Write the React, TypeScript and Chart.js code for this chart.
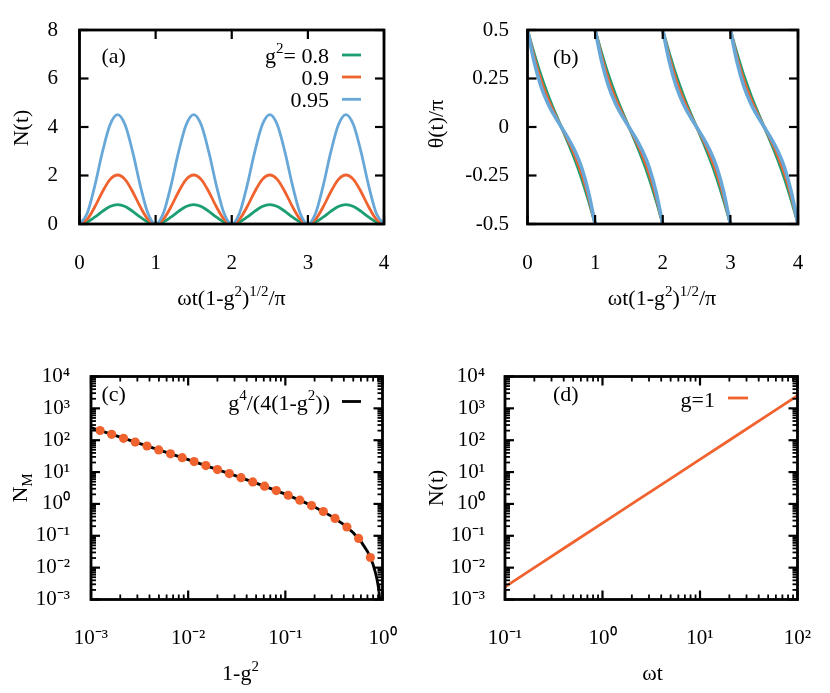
import React, { useEffect, useRef } from "react";
import { Chart, registerables } from "chart.js";

Chart.register(...registerables);

const FONT = '"Liberation Serif", "Times New Roman", serif';
const TICK_SIZE = 21;
const TEXT_SIZE = 22;

const GREEN = "#1b9e72";
const ORANGE = "#f0632f";
const BLUE = "#68a8d8";

// ---------------- Panel (a): N(t) ----------------
const X_A = [0, 0.1, 0.2, 0.3, 0.4, 0.5, 0.6, 0.7, 0.8, 0.9, 1, 1.1, 1.2, 1.3, 1.4, 1.5, 1.6, 1.7, 1.8, 1.9, 2, 2.1, 2.2, 2.3, 2.4, 2.5, 2.6, 2.7, 2.8, 2.9, 3, 3.1, 3.2, 3.3, 3.4, 3.5, 3.6, 3.7, 3.8, 3.9, 4];
const N_G08 = [0, 0.08, 0.28, 0.52, 0.72, 0.8, 0.72, 0.52, 0.28, 0.08, 0, 0.08, 0.28, 0.52, 0.72, 0.8, 0.72, 0.52, 0.28, 0.08, 0, 0.08, 0.28, 0.52, 0.72, 0.8, 0.72, 0.52, 0.28, 0.08, 0, 0.08, 0.28, 0.52, 0.72, 0.8, 0.72, 0.52, 0.28, 0.08, 0];
const N_G09 = [0, 0.19, 0.7, 1.32, 1.83, 2.02, 1.83, 1.32, 0.7, 0.19, 0, 0.19, 0.7, 1.32, 1.83, 2.02, 1.83, 1.32, 0.7, 0.19, 0, 0.19, 0.7, 1.32, 1.83, 2.02, 1.83, 1.32, 0.7, 0.19, 0, 0.19, 0.7, 1.32, 1.83, 2.02, 1.83, 1.32, 0.7, 0.19, 0];
const N_G095 = [0, 0.43, 1.56, 2.95, 4.08, 4.51, 4.08, 2.95, 1.56, 0.43, 0, 0.43, 1.56, 2.95, 4.08, 4.51, 4.08, 2.95, 1.56, 0.43, 0, 0.43, 1.56, 2.95, 4.08, 4.51, 4.08, 2.95, 1.56, 0.43, 0, 0.43, 1.56, 2.95, 4.08, 4.51, 4.08, 2.95, 1.56, 0.43, 0];
const A_X_TICKS = [0, 1, 2, 3, 4];
const A_Y_TICKS = [0, 2, 4, 6, 8];
const LABELS_A = ["g²= 0.8", "0.9", "0.95"];

// ---------------- Panel (b): theta(t)/pi ----------------
const B_PERIOD_STARTS = [0, 1, 2, 3];
const B_OFFSETS = [0, 0.1, 0.2, 0.3, 0.4, 0.5, 0.6, 0.7, 0.8, 0.9, 1];
const TH_G08 = [
  0.5, 0.377, 0.265, 0.168, 0.081, 0, -0.081, -0.168, -0.265, -0.377, -0.5,
  0.5, 0.377, 0.265, 0.168, 0.081, 0, -0.081, -0.168, -0.265, -0.377, -0.5,
  0.5, 0.377, 0.265, 0.168, 0.081, 0, -0.081, -0.168, -0.265, -0.377, -0.5,
  0.5, 0.377, 0.265, 0.168, 0.081, 0, -0.081, -0.168, -0.265, -0.377, -0.5,
];
const TH_G09 = [
  0.5, 0.358, 0.24, 0.146, 0.069, 0, -0.069, -0.146, -0.24, -0.358, -0.5,
  0.5, 0.358, 0.24, 0.146, 0.069, 0, -0.069, -0.146, -0.24, -0.358, -0.5,
  0.5, 0.358, 0.24, 0.146, 0.069, 0, -0.069, -0.146, -0.24, -0.358, -0.5,
  0.5, 0.358, 0.24, 0.146, 0.069, 0, -0.069, -0.146, -0.24, -0.358, -0.5,
];
const TH_G095 = [
  0.5, 0.333, 0.209, 0.123, 0.057, 0, -0.057, -0.123, -0.209, -0.333, -0.5,
  0.5, 0.333, 0.209, 0.123, 0.057, 0, -0.057, -0.123, -0.209, -0.333, -0.5,
  0.5, 0.333, 0.209, 0.123, 0.057, 0, -0.057, -0.123, -0.209, -0.333, -0.5,
  0.5, 0.333, 0.209, 0.123, 0.057, 0, -0.057, -0.123, -0.209, -0.333, -0.5,
];
const B_Y_TICKS = [-0.5, -0.25, 0, 0.25, 0.5];

// ---------------- Panel (c): N_M vs 1-g^2 ----------------
const X_C_DOTS = [0.00124, 0.00163, 0.00216, 0.00285, 0.00377, 0.00498, 0.00658, 0.00869, 0.0115, 0.0152, 0.02, 0.0265, 0.035, 0.0462, 0.0611, 0.0807, 0.107, 0.141, 0.186, 0.246, 0.325, 0.43, 0.568, 0.75];
const N_C_DOTS = [202, 153, 115, 87.2, 65.9, 49.7, 37.5, 28.3, 21.3, 16.0, 12.0, 8.94, 6.65, 4.92, 3.61, 2.62, 1.87, 1.31, 0.889, 0.578, 0.35, 0.189, 0.0824, 0.0208];
const X_C_LINE = [0.001, 0.002, 0.005, 0.01, 0.02, 0.03, 0.05, 0.07, 0.1, 0.15, 0.2, 0.3, 0.4, 0.5, 0.6, 0.7, 0.75, 0.8, 0.85, 0.88, 0.9, 0.92, 0.94, 0.95];
const N_C_LINE = [249.5, 124.5, 49.5, 24.5, 12.0, 7.84, 4.51, 3.09, 2.025, 1.204, 0.8, 0.408, 0.225, 0.125, 0.0667, 0.0321, 0.0208, 0.0125, 0.00662, 0.00409, 0.00278, 0.00174, 0.000957, 0.000658];
const C_X_TICKS = [1e-3, 1e-2, 1e-1, 1];
const C_Y_TICKS = [1e-3, 1e-2, 1e-1, 1, 1e1, 1e2, 1e3, 1e4];
const LABEL_C = "g⁴/(4(1-g²))";

// ---------------- Panel (d): N(t) at g = 1 ----------------
const X_D = [0.1, 0.2, 0.5, 1, 2, 5, 10, 20, 50, 100];
const N_D = [0.0025, 0.01, 0.0625, 0.25, 1, 6.25, 25, 100, 625, 2500];
const D_X_TICKS = [0.1, 1, 10, 100];
const D_Y_TICKS = C_Y_TICKS;
const LABEL_D = "g=1";

// ---------------- helpers ----------------
const SUP: Record<string, string> = { "-": "⁻", "0": "⁰", "1": "¹", "2": "²", "3": "³", "4": "⁴", "5": "⁵", "6": "⁶", "7": "⁷", "8": "⁸", "9": "⁹" };
const powLabel = (v: number) => {
  const e = Math.round(Math.log10(v));
  return "10" + String(e).split("").map((c) => SUP[c] || c).join("");
};
const plainLabel = (v: number) => String(v);

type Seg = { t: string; k?: "sup" | "sub" };
const UNSUP: Record<string, string> = { "⁻": "-", "⁰": "0", "¹": "1", "²": "2", "³": "3", "⁴": "4", "ᐟ": "/" };
function toSegs(s: string): Seg[] {
  const out: Seg[] = [];
  for (const ch of Array.from(s)) {
    const isSup = UNSUP[ch] !== undefined;
    const t = isSup ? UNSUP[ch] : ch;
    const k = isSup ? "sup" : undefined;
    const last = out[out.length - 1];
    if (last && last.k === k) last.t += t;
    else out.push({ t, k });
  }
  return out;
}

function drawRich(ctx: CanvasRenderingContext2D, segs: Seg[], x: number, y: number, size: number, rot = 0, align: "left" | "center" | "right" = "center") {
  ctx.save();
  ctx.translate(x, y);
  ctx.rotate(rot);
  ctx.textBaseline = "alphabetic";
  ctx.textAlign = "left";
  ctx.fillStyle = "#000";
  const small = Math.round(size * 0.7);
  const fontOf = (s: Seg) => `${s.k ? small : size}px ${FONT}`;
  const widths = segs.map((s) => {
    ctx.font = fontOf(s);
    return ctx.measureText(s.t).width;
  });
  const total = widths.reduce((a, b) => a + b, 0);
  let cx = align === "center" ? -total / 2 : align === "right" ? -total : 0;
  segs.forEach((s, i) => {
    ctx.font = fontOf(s);
    const dy = s.k === "sup" ? -0.42 * size : s.k === "sub" ? 0.24 * size : 0;
    ctx.fillText(s.t, cx, dy);
    cx += widths[i];
  });
  ctx.restore();
}

type Title = { segs: Seg[]; x: number; y: number; rot?: number };
type Deco = {
  panel: { text: string; x: number; y: number };
  legend?: { x1: number; x2: number; textRight: number; baselines: number[]; lineDy: number };
  titles: Title[];
};

function minorTicks(min: number, max: number) {
  const out: number[] = [];
  for (let e = Math.floor(Math.log10(min)); e <= Math.ceil(Math.log10(max)); e++) {
    for (let m = 2; m <= 9; m++) {
      const v = m * Math.pow(10, e);
      if (v > min * 1.0001 && v < max * 0.9999) out.push(v);
    }
  }
  return out;
}

function makeDecoPlugin(deco: Deco) {
  return {
    id: "gpDeco",
    afterDatasetsDraw(chart: any) {
      const { ctx, chartArea: a } = chart;
      const xs = chart.scales.x;
      const ys = chart.scales.y;
      ctx.save();
      ctx.strokeStyle = "#000";
      ctx.lineCap = "butt";
      const seg = (x1: number, y1: number, x2: number, y2: number) => {
        ctx.beginPath();
        ctx.moveTo(x1, y1);
        ctx.lineTo(x2, y2);
        ctx.stroke();
      };
      const xT = (v: number, len: number) => {
        const p = xs.getPixelForValue(v);
        seg(p, a.bottom, p, a.bottom - len);
        seg(p, a.top, p, a.top + len);
      };
      const yT = (v: number, len: number) => {
        const p = ys.getPixelForValue(v);
        seg(a.left, p, a.left + len, p);
        seg(a.right, p, a.right - len, p);
      };
      ctx.lineWidth = 2.2;
      xs.ticks.forEach((t: any) => xT(t.value, 9));
      ys.ticks.forEach((t: any) => yT(t.value, 9));
      ctx.lineWidth = 1.8;
      if (xs.type === "logarithmic") minorTicks(xs.min, xs.max).forEach((v) => xT(v, 5));
      if (ys.type === "logarithmic") minorTicks(ys.min, ys.max).forEach((v) => yT(v, 5));
      ctx.lineWidth = 2.8;
      ctx.strokeRect(a.left, a.top, a.right - a.left, a.bottom - a.top);

      drawRich(ctx, toSegs(deco.panel.text), deco.panel.x, deco.panel.y, TEXT_SIZE, 0, "left");

      if (deco.legend) {
        const L = deco.legend;
        const items = chart.data.datasets.filter((d: any) => d.label);
        items.forEach((d: any, i: number) => {
          const by = L.baselines[i];
          drawRich(ctx, toSegs(d.label), L.textRight, by, TEXT_SIZE, 0, "right");
          ctx.strokeStyle = d.borderColor;
          ctx.lineWidth = 2.8;
          seg(L.x1, by - L.lineDy, L.x2, by - L.lineDy);
        });
      }

      deco.titles.forEach((t) => drawRich(ctx, t.segs, t.x, t.y, TEXT_SIZE, t.rot || 0, "center"));
      ctx.restore();
    },
  };
}

type Box = { W: number; H: number; L: number; T: number; R: number; B: number };

function axis(type: string, min: number, max: number, ticks: number[], horizontal: boolean, size: number, padding: number, label: (v: number) => string) {
  return {
    type,
    min,
    max,
    grid: { display: false },
    border: { display: false },
    title: { display: false },
    ticks: {
      autoSkip: false,
      maxRotation: 0,
      minRotation: 0,
      padding,
      color: "#000",
      font: { family: FONT, size: TICK_SIZE },
      callback: (v: any) => label(Number(v)),
    },
    afterBuildTicks: (s: any) => {
      s.ticks = ticks.map((v) => ({ value: v }));
    },
    afterFit: (s: any) => {
      if (horizontal) s.height = size;
      else s.width = size;
    },
  };
}

function buildConfig(box: Box, datasets: any[], xAxis: any, yAxis: any, deco: Deco) {
  return {
    type: "line",
    data: { datasets },
    options: {
      responsive: false,
      maintainAspectRatio: false,
      animation: false,
      events: [],
      layout: { padding: { left: 0, top: box.T, right: box.W - box.R, bottom: 0 } },
      plugins: { legend: { display: false }, tooltip: { enabled: false } },
      scales: { x: xAxis, y: yAxis },
    },
    plugins: [makeDecoPlugin(deco)],
  };
}

const pts = (xs: number[], ys: number[]) => xs.map((x, i) => ({ x, y: ys[i] }));
function periodicPts(starts: number[], offsets: number[], values: number[]) {
  const out: any[] = [];
  starts.forEach((s, p) => {
    offsets.forEach((o, i) => out.push({ x: s + o, y: values[p * offsets.length + i] }));
    out.push({ x: s + offsets[offsets.length - 1], y: null });
  });
  return out;
}

const lineDs = (label: string | undefined, data: any[], color: string, width: number, order: number) => ({
  label,
  data,
  borderColor: color,
  backgroundColor: color,
  borderWidth: width,
  pointRadius: 0,
  fill: false,
  cubicInterpolationMode: "monotone",
  spanGaps: false,
  order,
});

const BOX_A: Box = { W: 415, H: 330, L: 79.5, T: 30, R: 384, B: 224 };
const BOX_B: Box = { W: 415, H: 330, L: 112.5, T: 30, R: 383, B: 224 };
const BOX_C: Box = { W: 415, H: 363, L: 91, T: 46.5, R: 382.5, B: 269.5 };
const BOX_D: Box = { W: 415, H: 363, L: 90, T: 46.5, R: 382.5, B: 269.5 };

const XTITLE_TOP: Seg[] = [{ t: "ωt(1-g" }, { t: "2", k: "sup" }, { t: ")" }, { t: "1/2", k: "sup" }, { t: "/π" }];

function configA() {
  const b = BOX_A;
  return buildConfig(
    b,
    [
      lineDs(LABELS_A[0], pts(X_A, N_G08), GREEN, 2.8, 2),
      lineDs(LABELS_A[1], pts(X_A, N_G09), ORANGE, 2.8, 1),
      lineDs(LABELS_A[2], pts(X_A, N_G095), BLUE, 2.8, 0),
    ],
    axis("linear", 0, 4, A_X_TICKS, true, b.H - b.B, 18.5, plainLabel),
    axis("linear", 0, 8, A_Y_TICKS, false, b.L, 13.5, plainLabel),
    {
      panel: { text: "(a)", x: 101.5, y: 63 },
      legend: { x1: 342, x2: 361, textRight: 329, baselines: [62.5, 84.5, 106.8], lineDy: 7.5 },
      titles: [
        { segs: XTITLE_TOP, x: 231.5, y: 305 },
        { segs: [{ t: "N(t)" }], x: 28, y: 128, rot: -Math.PI / 2 },
      ],
    }
  );
}

function configB() {
  const b = BOX_B;
  return buildConfig(
    b,
    [
      lineDs(undefined, periodicPts(B_PERIOD_STARTS, B_OFFSETS, TH_G08), GREEN, 3, 2),
      lineDs(undefined, periodicPts(B_PERIOD_STARTS, B_OFFSETS, TH_G09), ORANGE, 3, 1),
      lineDs(undefined, periodicPts(B_PERIOD_STARTS, B_OFFSETS, TH_G095), BLUE, 3.6, 0),
    ],
    axis("linear", 0, 4, A_X_TICKS, true, b.H - b.B, 18.5, plainLabel),
    axis("linear", -0.5, 0.5, B_Y_TICKS, false, b.L, 10.5, plainLabel),
    {
      panel: { text: "(b)", x: 138, y: 64 },
      titles: [
        { segs: XTITLE_TOP, x: 247, y: 305 },
        { segs: [{ t: "θ(t)/π" }], x: 28, y: 124, rot: -Math.PI / 2 },
      ],
    }
  );
}

function configC() {
  const b = BOX_C;
  return buildConfig(
    b,
    [
      {
        data: pts(X_C_DOTS, N_C_DOTS),
        showLine: false,
        pointRadius: 4.6,
        pointBackgroundColor: ORANGE,
        pointBorderWidth: 0,
        borderColor: ORANGE,
        backgroundColor: ORANGE,
        order: 0,
      },
      { ...lineDs(LABEL_C, pts(X_C_LINE, N_C_LINE), "#000", 2.8, 1), cubicInterpolationMode: "default", tension: 0 },
    ],
    axis("logarithmic", 1e-3, 1, C_X_TICKS, true, b.H - b.B, 18, powLabel),
    axis("logarithmic", 1e-3, 1e4, C_Y_TICKS, false, b.L, 13, powLabel),
    {
      panel: { text: "(c)", x: 101.5, y: 71 },
      legend: { x1: 342, x2: 361, textRight: 330, baselines: [79.5], lineDy: 8 },
      titles: [
        { segs: [{ t: "1-g" }, { t: "2", k: "sup" }], x: 240.5, y: 350 },
        { segs: [{ t: "N" }, { t: "M", k: "sub" }], x: 27, y: 158, rot: -Math.PI / 2 },
      ],
    }
  );
}

function configD() {
  const b = BOX_D;
  return buildConfig(
    b,
    [{ ...lineDs(LABEL_D, pts(X_D, N_D), ORANGE, 2.8, 0), cubicInterpolationMode: "default", tension: 0 }],
    axis("logarithmic", 0.1, 100, D_X_TICKS, true, b.H - b.B, 18, powLabel),
    axis("logarithmic", 1e-3, 1e4, D_Y_TICKS, false, b.L, 12, powLabel),
    {
      panel: { text: "(d)", x: 138, y: 71 },
      legend: { x1: 313, x2: 333, textRight: 300, baselines: [76.5], lineDy: 8.5 },
      titles: [
        { segs: [{ t: "ωt" }], x: 237.5, y: 350 },
        { segs: [{ t: "N(t)" }], x: 28, y: 158, rot: -Math.PI / 2 },
      ],
    }
  );
}

function Panel({ left, top, box, make }: { left: number; top: number; box: Box; make: () => any }) {
  const ref = useRef<HTMLCanvasElement | null>(null);
  useEffect(() => {
    if (!ref.current) return;
    const chart = new Chart(ref.current, make());
    return () => chart.destroy();
  }, []);
  return (
    <canvas
      ref={ref}
      width={box.W}
      height={box.H}
      style={{ position: "absolute", left, top, width: box.W, height: box.H }}
    />
  );
}

export default function App() {
  return (
    <div style={{ position: "absolute", left: 0, top: 0, width: 830, height: 693, background: "#fff", overflow: "hidden" }}>
      <Panel left={0} top={0} box={BOX_A} make={configA} />
      <Panel left={415} top={0} box={BOX_B} make={configB} />
      <Panel left={0} top={330} box={BOX_C} make={configC} />
      <Panel left={415} top={330} box={BOX_D} make={configD} />
    </div>
  );
}
